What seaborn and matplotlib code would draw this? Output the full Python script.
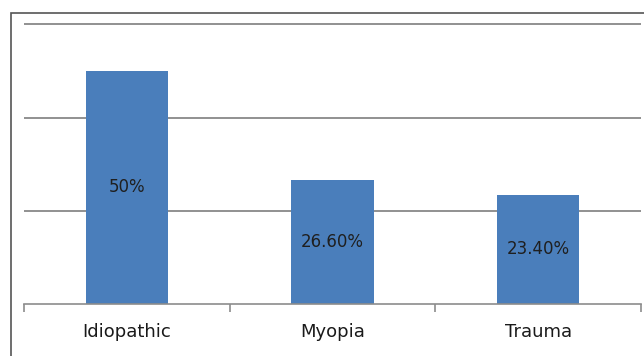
import matplotlib
matplotlib.use("Agg")
import matplotlib.pyplot as plt
import seaborn as sns
import pandas as pd

categories = ["Idiopathic", "Myopia", "Trauma"]
values = [50.0, 26.6, 23.4]
value_labels = ["50%", "26.60%", "23.40%"]

sns.set_theme(style="white")
plt.rcParams["font.family"] = ["DejaVu Sans"]

df = pd.DataFrame({"cause": categories, "pct": values})

fig = plt.figure(figsize=(6.44, 3.56), dpi=100)
ax = fig.add_axes([24 / 644, 1 - 304 / 356, (641 - 24) / 644, (305 - 24) / 356])

bar_color = "#4a7ebb"
sns.barplot(data=df, x="cause", y="pct", color=bar_color, width=0.40,
            saturation=1, linewidth=0, ax=ax, zorder=3)

ax.set_ylim(0, 60.3)
ax.set_xlim(-0.5, 2.5)
ax.set_yticks([20, 40, 60])
ax.yaxis.grid(True, color="#888888", linewidth=1.3, zorder=0)
ax.set_axisbelow(True)
ax.tick_params(axis="y", left=False, labelleft=False)

# category boundary ticks below the axis line
ax.set_xticks([-0.5, 0.5, 1.5, 2.5], minor=True)
ax.tick_params(axis="x", which="minor", length=6, width=1.2, color="#8c8c8c",
               direction="out", bottom=True)
ax.tick_params(axis="x", which="major", length=0, pad=14, labelsize=13,
               labelcolor="#1a1a1a")
ax.set_xlabel("")
ax.set_ylabel("")

for side in ("top", "right", "left"):
    ax.spines[side].set_visible(False)
ax.spines["bottom"].set_color("#8c8c8c")
ax.spines["bottom"].set_linewidth(1.2)
ax.spines["bottom"].set_zorder(4)

for i, (v, lab) in enumerate(zip(values, value_labels)):
    ax.text(i, v / 2, lab, ha="center", va="center", fontsize=12,
            color="#1f1f1f", zorder=5)

# frame around the chart area
frame = plt.Rectangle((11 / 644, -0.1), 1.2, 1 - 13 / 356 + 0.1,
                      transform=fig.transFigure, fill=False,
                      edgecolor="#555555", linewidth=1.2, clip_on=False)
fig.add_artist(frame)

fig.savefig("out.png", dpi=100)
